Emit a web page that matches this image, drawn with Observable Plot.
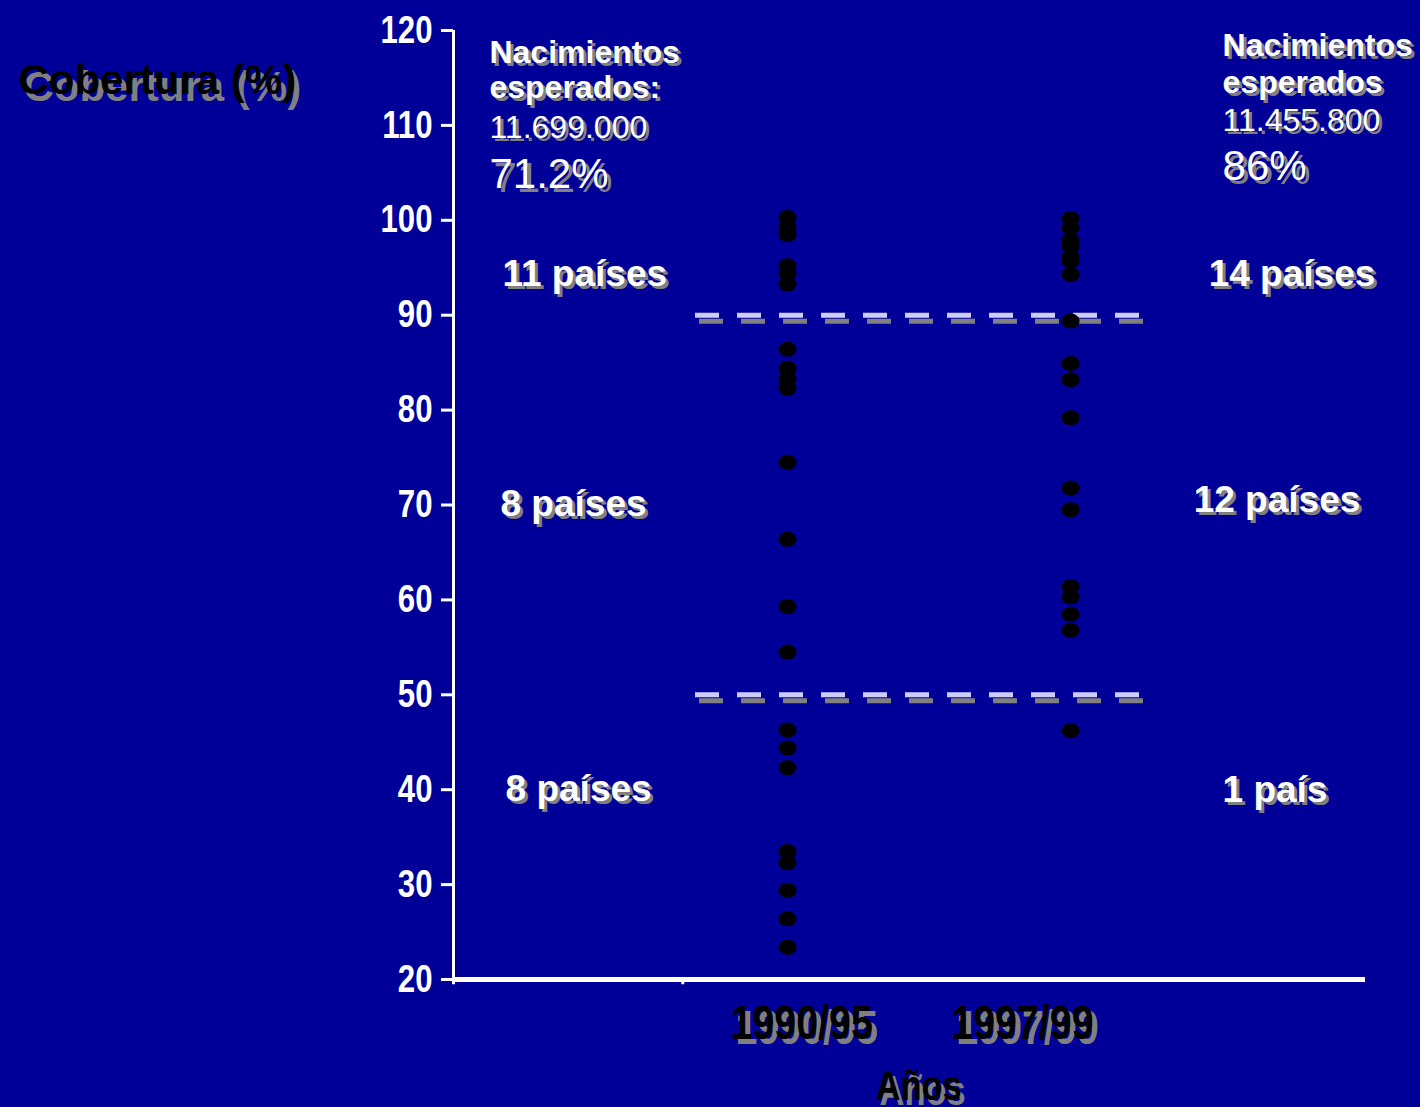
<!DOCTYPE html>
<html><head><meta charset="utf-8">
<script src="https://cdn.jsdelivr.net/npm/d3@7"></script>
<script src="https://cdn.jsdelivr.net/npm/@observablehq/plot@0.6"></script>
<style>
html,body{margin:0;padding:0;background:#000099;}
</style></head><body><div id="chart"></div>
<script>
// ---- data ----
const periods = ["1990/95", "1997/99"];
const coverage9095 = [100.3, 99.3, 98.5, 95.2, 94.4, 93.3, 86.4, 84.4, 83.3, 82.3, 74.5, 66.4, 59.3, 54.5, 46.3, 44.4, 42.3, 33.5, 32.3, 29.4, 26.4, 23.4];
const coverage9799 = [100.2, 99.2, 97.9, 97.3, 96.1, 95.7, 94.3, 89.4, 84.9, 83.2, 79.2, 71.8, 69.5, 61.4, 60.3, 58.5, 56.8, 46.2];
const yTicks = [20, 30, 40, 50, 60, 70, 80, 90, 100, 110, 120];
const thresholds = [90, 50];
const countsLeft = ["11 países", "8 países", "8 países"];
const countsRight = ["14 países", "12 países", "1 país"];
const birthsLeftHead = ["Nacimientos", "esperados:"];
const birthsLeftValue = "11.699.000";
const birthsRightHead = ["Nacimientos", "esperados"];
const birthsRightValue = "11.455.800";
const shareLeft = "71.2%";
const shareRight = "86%";
const yLabel = "Cobertura (%)";
const xLabel = "Años";

const points = [
  ...coverage9095.map(v => ({period: periods[0], v})),
  ...coverage9799.map(v => ({period: periods[1], v}))
];

const SANS = "'Liberation Sans', Arial, sans-serif";
const NARROW = "'Liberation Sans Narrow', 'Liberation Sans', Arial, sans-serif";
const GRAY = "#808080";

const ellipse = {
  draw(ctx) {
    const rx = 9, ry = 7.5, k = 0.5523;
    ctx.moveTo(rx, 0);
    ctx.bezierCurveTo(rx, ry * k, rx * k, ry, 0, ry);
    ctx.bezierCurveTo(-rx * k, ry, -rx, ry * k, -rx, 0);
    ctx.bezierCurveTo(-rx, -ry * k, -rx * k, -ry, 0, -ry);
    ctx.bezierCurveTo(rx * k, -ry, rx, -ry * k, rx, 0);
    ctx.closePath();
  }
};

function shadowText(data, opts, off = [3, 3], shadowFill = GRAY) {
  return [
    Plot.text(data, {...opts, fill: shadowFill, dx: (opts.dx || 0) + off[0], dy: (opts.dy || 0) + off[1]}),
    Plot.text(data, opts)
  ];
}

const xDomain = [-1.18, 2.042];
const yDomain = [20, 120];

const chart = Plot.plot({
  width: 1420,
  height: 1107,
  marginLeft: 453,
  marginRight: 55,
  marginTop: 30,
  marginBottom: 128,
  style: {background: "#000099", fontFamily: SANS, overflow: "visible"},
  x: {domain: xDomain, axis: null},
  y: {domain: yDomain, axis: null},
  marks: [
    // y axis
    Plot.axisY({ticks: yTicks, label: null, tickSize: 12, tickPadding: 9, tickFormat: d => String(d),
      stroke: "white", strokeWidth: 3, fill: "white", fontSize: 38, fontWeight: "bold", fontFamily: NARROW}),
    Plot.ruleX([xDomain[0]], {y1: yDomain[0], y2: yDomain[1], stroke: "white", strokeWidth: 3}),
    // x axis
    Plot.ruleY([yDomain[0]], {stroke: "white", strokeWidth: 5}),
    Plot.ruleX([xDomain[0], -0.37], {y1: yDomain[0], y2: yDomain[0] - 0.55, stroke: "white", strokeWidth: 3}),
    // threshold dashed lines with shadow
    Plot.ruleY(thresholds, {x1: -0.325, x2: 1.265, stroke: GRAY, strokeWidth: 5, strokeDasharray: "24 18", dx: 4, dy: 6}),
    Plot.ruleY(thresholds, {x1: -0.325, x2: 1.265, stroke: "#ccccff", strokeWidth: 5, strokeDasharray: "24 18"}),
    // dots
    Plot.dot(points, {x: d => periods.indexOf(d.period), y: "v", symbol: ellipse, fill: "black", stroke: "none"}),
    // x tick labels
    ...shadowText(periods, {x: (d, i) => [0.05, 0.83][i], y: 15.4, fill: "black", fontSize: 48, fontWeight: "bold", fontFamily: NARROW, textAnchor: "middle"}, [5, 5]),
    ...shadowText([xLabel], {x: 0.463, y: 8.7, fill: "black", fontSize: 42, fontWeight: "bold", fontFamily: NARROW, textAnchor: "middle"}, [4, 5]),
    // y label
    ...shadowText([yLabel], {x: -2.717, y: 114.7, fill: "black", fontSize: 42, fontWeight: "bold", textAnchor: "start"}, [5, 7]),
    // country counts
    ...shadowText(countsLeft, {x: (d, i) => [-1.007, -1.014, -0.996][i], y: (d, i) => [94.3, 70.05, 40.1][i], fill: "white", fontSize: 37, fontWeight: "bold", textAnchor: "start"}),
    ...shadowText(countsRight, {x: (d, i) => [1.488, 1.435, 1.537][i], y: (d, i) => [94.3, 70.5, 39.9][i], fill: "white", fontSize: 37, fontWeight: "bold", textAnchor: "start"}),
    // births blocks
    ...shadowText(birthsLeftHead, {x: -1.053, y: (d, i) => [117.7, 114.0][i], fill: "white", fontSize: 32, fontWeight: "bold", textAnchor: "start"}),
    ...shadowText([birthsLeftValue], {x: -1.053, y: 109.7, fill: "white", fontSize: 32, textAnchor: "start"}),
    ...shadowText([shareLeft], {x: -1.053, y: 104.8, fill: "white", fontSize: 42, textAnchor: "start"}, [4, 4]),
    ...shadowText(birthsRightHead, {x: 1.537, y: (d, i) => [118.4, 114.5][i], fill: "white", fontSize: 32, fontWeight: "bold", textAnchor: "start"}),
    ...shadowText([birthsRightValue], {x: 1.537, y: 110.5, fill: "white", fontSize: 32, textAnchor: "start"}),
    ...shadowText([shareRight], {x: 1.537, y: 105.7, fill: "white", fontSize: 42, textAnchor: "start"}, [4, 4])
  ]
});
document.getElementById("chart").appendChild(chart);

// condense the "narrow" texts (Arial Narrow look) when no narrow face is installed
d3.select(chart).selectAll('[font-family*="Narrow"] text').each(function () {
  const w = this.getComputedTextLength();
  this.setAttribute("textLength", (w * 0.82).toFixed(1));
  this.setAttribute("lengthAdjust", "spacingAndGlyphs");
});
</script>
</body></html>
